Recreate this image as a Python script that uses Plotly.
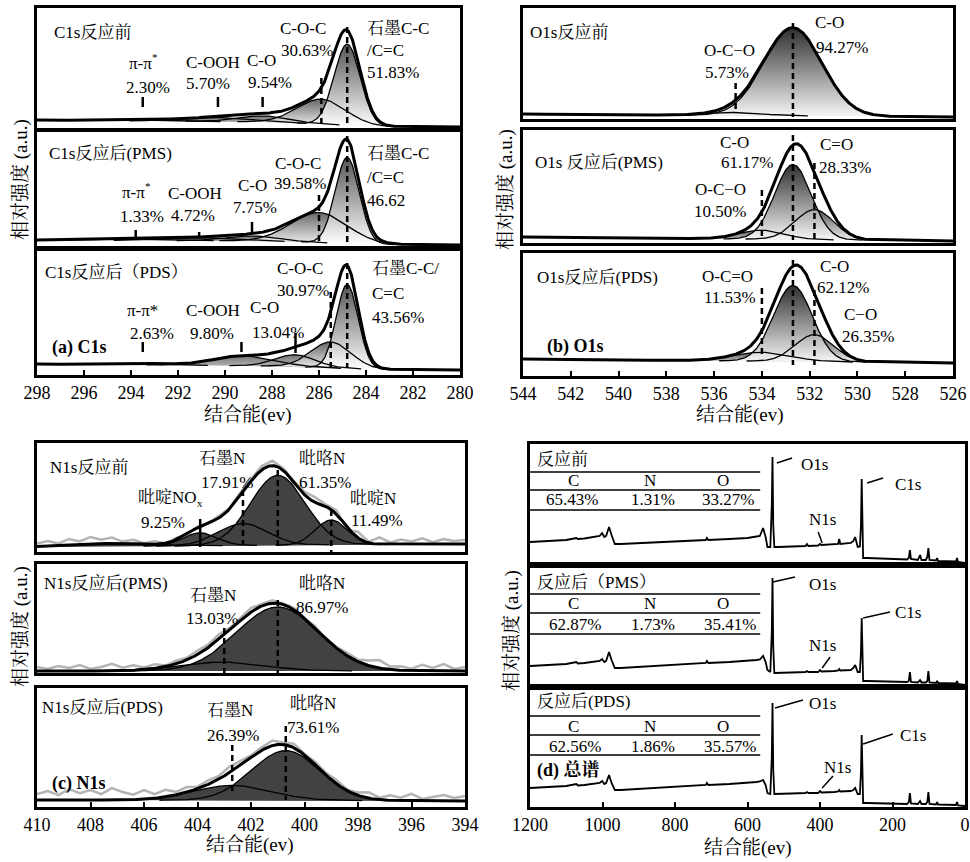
import numpy as np
import plotly.graph_objects as go

# ===================== DATA =====================
# Intensities are arbitrary units (a.u.) measured upward from the bottom edge of each sub-panel.

# ---- (a) C1s : component centres (eV), amplitudes (a.u.), FWHM (eV); background points ----
a1_center = [284.8, 285.9, 288.4, 290.3, 293.5]
a1_amp    = [81, 25, 6, 4, 1.5]
a1_fwhm   = [1.3, 2.4, 2.5, 3.0, 3.0]
a1_bg_be  = [280, 283.5, 288, 298]
a1_bg     = [1, 1.5, 6, 8]

a2_center = [284.8, 286.0, 288.85, 291.1, 293.8]
a2_amp    = [86, 30, 5, 3, 1.5]
a2_fwhm   = [1.2, 2.8, 2.5, 3.0, 3.0]
a2_bg_be  = [280, 283.5, 288, 298]
a2_bg     = [1, 1.5, 5, 6]

a3_center = [284.8, 285.5, 287.0, 289.2, 293.5]
a3_amp    = [84, 26, 12, 10, 1.5]
a3_fwhm   = [1.1, 2.0, 2.0, 3.0, 2.5]
a3_bg_be  = [280, 283.5, 288, 298]
a3_bg     = [5, 5.5, 9, 11]

# ---- (b) O1s ----
b1_center = [532.7, 535.1]
b1_amp    = [88, 3]
b1_fwhm   = [2.85, 2.5]
b1_bg_be  = [526, 544]
b1_bg     = [2, 5]

b2_center = [532.7, 531.8, 534.0]
b2_amp    = [75, 30, 9]
b2_fwhm   = [1.8, 1.9, 2.2]
b2_bg_be  = [526, 544]
b2_bg     = [2, 6]

b3_center = [532.7, 531.8, 534.0]
b3_amp    = [76, 27, 9]
b3_fwhm   = [1.9, 1.9, 2.8]
b3_bg_be  = [526, 544]
b3_bg     = [13, 17]

# ---- (c) N1s ----
c1_center = [401.0, 402.3, 403.9, 399.0, 407.3]
c1_amp    = [70, 22, 13, 25, 3]
c1_fwhm   = [2.4, 2.2, 1.5, 1.4, 3.5]
c1_bg_be  = [394, 410]
c1_bg     = [8, 5]

c2_center = [401.0, 403.0]
c2_amp    = [64, 9]
c2_fwhm   = [3.6, 3.5]
c2_bg_be  = [394, 410]
c2_bg     = [2, 2]

c3_center = [400.7, 402.7]
c3_amp    = [50, 15]
c3_fwhm   = [3.0, 3.4]
c3_bg_be  = [394, 410]
c3_bg     = [6, 7]

# raw-data scatter (grey) about the fitted envelope, every 0.4 eV from 410 to 394 eV
n_raw_be = [410 - 0.4 * i for i in range(41)]
c1_noise = [3, 5, 2, 6, 3, 7, 4, 6, 2, 4, 1, 3, 0, 2, -1, 1, 0, 2, 1, 3, 2, 4, 5, 2, 1, 3,
            5, 2, 4, -3, 6, 1, 7, 2, 5, 3, 6, 2, 5, 3, 4]
c2_noise = [4, 2, 5, 3, 6, 2, 4, 7, 3, 5, 2, 4, 1, 3, 2, 4, 3, 5, 2, 3, 4, 2, 3, 1, 2, 0,
            2, -1, 1, 3, 2, 5, 8, 3, 4, 2, 6, 3, 7, 2, 4]
c3_noise = [6, 9, 5, 11, 7, 10, 6, 12, 8, 5, 9, 4, 7, 3, 5, 2, 4, 3, 6, 4, 2, 3, 5, 2, 4, 1,
            3, 2, 4, 1, 3, 6, 2, 5, 3, 7, 2, 4, 6, 3, 5]

# ---- (d) survey spectra: binding energy (eV) and intensity (a.u.) ----
survey_be = [1200, 1150, 1100, 1072, 1068, 1050, 1020, 1008, 1001, 995, 990, 982, 975, 966,
             950, 900, 800, 715, 712, 708, 650, 600, 575, 566, 557, 550, 545, 537, 533, 531,
             529, 526, 515, 480, 440, 436, 432, 405, 400, 396, 360, 350, 347, 344, 315, 308,
             303, 299, 296, 290, 287, 285, 283, 281, 270, 230, 200, 160, 155, 152, 149, 130,
             124, 120, 108, 104, 101, 98, 80, 77, 74, 40, 25, 22, 19, 0]
d1_int = [23, 24, 25, 27, 26, 26.5, 28, 29, 32, 28, 29, 38, 30, 21,
          21, 22, 23.5, 25, 27, 25, 26, 27, 28.5, 29, 37, 28, 18, 18, 60, 108,
          40, 18, 18, 18.5, 19, 21, 19, 19.5, 21, 20, 20.5, 21, 26, 21, 22, 24,
          28, 22, 18, 18.5, 40, 86, 30, 7, 7, 6.5, 6, 5.5, 7, 15, 6, 5,
          10, 5, 5, 8, 17, 5, 4.5, 7, 4, 3.5, 3.5, 7, 3, 2]
d2_int = [21, 22, 23, 25, 23.5, 24, 25, 26, 28, 25, 26, 35, 27, 19,
          19, 20, 22, 24, 26, 24, 25, 26, 27, 27.5, 31, 25, 17, 15, 55, 109,
          40, 14, 14, 14.5, 15, 16, 15, 15, 17, 15.5, 16, 16.5, 18, 16.5, 17, 19,
          22, 18, 15, 15, 35, 69, 25, 6, 6, 5.5, 5, 5, 6, 15, 5, 4.5,
          7, 4.5, 4.5, 6, 16, 4.5, 4, 6, 4, 3.5, 3.5, 6, 3, 2]
d3_int = [19, 20, 21, 23, 21.5, 22, 23, 24, 26, 23, 24, 32, 24, 17,
          17, 18, 20, 22, 24, 22, 23, 24, 25, 25.5, 27, 22, 14, 13, 50, 104,
          38, 13, 13, 13.5, 14, 15, 14, 14, 16, 14.5, 15, 15.5, 17, 15.5, 16, 17,
          19, 16, 13, 13, 35, 72, 25, 4, 4, 3.5, 3.5, 3, 5, 14, 3.5, 3,
          6, 3, 3, 5, 15, 3, 2.5, 5, 2.5, 2, 2, 5, 1.5, 1]

# element tables (panel d)
elements = ["C", "N", "O"]
d1_atomic = ["65.43%", "1.31%", "33.27%"]
d2_atomic = ["62.87%", "1.73%", "35.41%"]
d3_atomic = ["62.56%", "1.86%", "35.57%"]

# tick labels
ticks_a = [298, 296, 294, 292, 290, 288, 286, 284, 282, 280]
ticks_b = [544, 542, 540, 538, 536, 534, 532, 530, 528, 526]
ticks_c = [410, 408, 406, 404, 402, 400, 398, 396, 394]
ticks_d = [1200, 1000, 800, 600, 400, 200, 0]

# ===================== LAYOUT / STYLE =====================
W, H = 970, 862
FONT = "Liberation Serif, 'Noto Serif CJK SC', 'Noto Sans CJK SC', serif"
FS = 17
keys = ['a1', 'a2', 'a3', 'b1', 'b2', 'b3', 'c1', 'c2', 'c3', 'd1', 'd2', 'd3']
BOX = {  # left, right, top, bottom (px)
    'a1': (37, 460, 8, 128), 'a2': (37, 460, 132, 246), 'a3': (37, 460, 251, 375),
    'b1': (523, 953, 8, 119), 'b2': (523, 953, 130, 243), 'b3': (523, 953, 253, 376),
    'c1': (37, 465, 443, 552), 'c2': (37, 465, 564, 673), 'c3': (37, 465, 688, 807),
    'd1': (530, 965, 444, 565), 'd2': (530, 965, 565, 687), 'd3': (530, 965, 687, 807),
}
XR = {'a': [298, 280], 'b': [544, 526], 'c': [410, 394], 'd': [1200, 0]}
TICKS = {'a': ticks_a, 'b': ticks_b, 'c': ticks_c, 'd': ticks_d}

def ax_id(n, axis):
    return axis if n == 1 else f"{axis}{n}"

layout = dict(width=W, height=H, margin=dict(l=0, r=0, t=0, b=0, pad=0, autoexpand=False),
              autosize=False, paper_bgcolor='white', plot_bgcolor='white', showlegend=False,
              font=dict(family=FONT, size=FS, color='black'))
for i, k in enumerate(keys):
    n = i + 1
    l, r, t, b = BOX[k]
    xa = dict(domain=[l / W, r / W], range=XR[k[0]], anchor=ax_id(n, 'y'),
              showline=True, mirror=True, linewidth=2.5, linecolor='black',
              showgrid=False, zeroline=False, fixedrange=True, automargin=False)
    if k.endswith('3'):
        xa.update(ticks='inside', ticklen=5, tickwidth=1.5, tickcolor='black',
                  tickvals=TICKS[k[0]], ticktext=[str(v) for v in TICKS[k[0]]],
                  tickfont=dict(size=18, family=FONT, color='black'))
    else:
        xa.update(ticks='', showticklabels=False)
    ya = dict(domain=[1 - b / H, 1 - t / H], range=[0, b - t], anchor=ax_id(n, 'x'),
              showline=True, mirror=True, linewidth=2.5, linecolor='black', automargin=False,
              showgrid=False, zeroline=False, showticklabels=False, ticks='', fixedrange=True)
    layout[ax_id(n, 'xaxis')] = xa
    layout[ax_id(n, 'yaxis')] = ya

FITS = {
    'a1': (a1_center, a1_amp, a1_fwhm, a1_bg_be, a1_bg),
    'a2': (a2_center, a2_amp, a2_fwhm, a2_bg_be, a2_bg),
    'a3': (a3_center, a3_amp, a3_fwhm, a3_bg_be, a3_bg),
    'b1': (b1_center, b1_amp, b1_fwhm, b1_bg_be, b1_bg),
    'b2': (b2_center, b2_amp, b2_fwhm, b2_bg_be, b2_bg),
    'b3': (b3_center, b3_amp, b3_fwhm, b3_bg_be, b3_bg),
    'c1': (c1_center, c1_amp, c1_fwhm, c1_bg_be, c1_bg),
    'c2': (c2_center, c2_amp, c2_fwhm, c2_bg_be, c2_bg),
    'c3': (c3_center, c3_amp, c3_fwhm, c3_bg_be, c3_bg),
}
NOISE = {'c1': c1_noise, 'c2': c2_noise, 'c3': c3_noise}

GRAD_C = [[[0, '#ffffff'], [1, '#555555']], [[0, '#f2f2f2'], [1, '#686868']],
          [[0, '#bdbdbd'], [1, '#777777']], [[0, '#bdbdbd'], [1, '#777777']],
          [[0, '#bdbdbd'], [1, '#777777']]]
GRAD_O = [[[0, '#f7f7f7'], [1, '#2e2e2e']], [[0, '#f0f0f0'], [1, '#555555']],
          [[0, '#c8c8c8'], [1, '#555555']]]

# peak markers: (x, top, bottom, dashed)
MARKS = {
    'a1': [(293.5, 31, 21, 0), (290.3, 31, 21, 0), (288.4, 31, 21, 0), (285.9, 50, 3, 1), (284.8, 101, 2, 1)],
    'a2': [(293.8, 16, 9, 0), (291.1, 14, 8, 0), (288.85, 24, 13, 0), (286.0, 51, 4, 1), (284.8, 110, 3, 1)],
    'a3': [(293.5, 33, 23, 0), (289.3, 33, 23, 0), (287.0, 42, 22, 0), (285.5, 83, 8, 1), (284.8, 112, 7, 1)],
    'b1': [(535.1, 36, 7, 1), (532.7, 96, 2, 1)],
    'b2': [(534.0, 53, 6, 1), (532.7, 108, 3, 1), (531.8, 80, 3, 1)],
    'b3': [(534.0, 88, 19, 1), (532.7, 116, 11, 1), (531.8, 86, 11, 1)],
    'c1': [(403.9, 33, 5, 0), (402.3, 62, 7, 1), (401.0, 82, 7, 1), (399.0, 42, 0, 1)],
    'c2': [(403.0, 45, 0, 1), (401.0, 73, 0, 1)],
    'c3': [(402.7, 62, 14, 1), (400.7, 81, 7, 1)],
}

# label texts: (text, x, y, x-anchor, font size, bold, x-shift px)
LABELS = {
    'a1': [("C1s反应前", 297.36, 96, 'left'), ("π-π", 293.02, 65, 'right'),
           ("*", 293.02, 71, 'left', 11, False, -4),
           ("2.30%", 293.28, 41, 'center'), ("C-OOH", 290.51, 66, 'center'),
           ("5.70%", 290.72, 45, 'center'), ("C-O", 288.43, 68, 'center'),
           ("9.54%", 288.09, 46, 'center'), ("C-O-C", 286.68, 100, 'center'),
           ("30.63%", 286.51, 78, 'center'), ("石墨C-C", 284.04, 100, 'left'),
           ("/C=C", 284.04, 78, 'left'), ("51.83%", 284.04, 56, 'left')],
    'a2': [("C1s反应后(PMS)", 297.57, 93, 'left'), ("C-O-C", 286.89, 83, 'center'),
           ("39.58%", 286.81, 63, 'center'), ("石墨C-C", 284.04, 93, 'left'),
           ("/C=C", 284.04, 69, 'left'), ("46.62", 284.04, 46, 'left'),
           ("π-π", 293.32, 54, 'right'), ("*", 293.32, 60, 'left', 11, False, -4),
           ("1.33%", 293.53, 30, 'center'),
           ("C-OOH", 291.28, 53, 'center'), ("4.72%", 291.36, 31, 'center'),
           ("C-O", 288.81, 61, 'center'), ("7.75%", 288.72, 39, 'center')],
    'a3': [("C1s反应后（PDS）", 297.74, 103, 'left'), ("C-O-C", 286.81, 107, 'center'),
           ("30.97%", 286.68, 85, 'center'), ("石墨C-C/", 283.83, 107, 'left'),
           ("C=C", 283.83, 82, 'left'), ("43.56%", 283.83, 58, 'left'),
           ("π-π*", 293.49, 65, 'center'), ("2.63%", 293.11, 42, 'center'),
           ("C-OOH", 290.51, 65, 'center'), ("9.80%", 290.55, 42, 'center'),
           ("C-O", 288.30, 68, 'center'), ("13.04%", 287.75, 43, 'center'),
           ("(a) C1s", 297.45, 28, 'left', 18, True)],
    'b1': [("O1s反应前", 543.79, 87, 'left'), ("O-C−O", 535.34, 69, 'center'),
           ("5.73%", 535.46, 47, 'center'), ("C-O", 531.15, 97, 'center'),
           ("94.27%", 530.65, 72, 'center')],
    'b2': [("O1s 反应后(PMS)", 543.58, 80, 'left'), ("C-O", 535.13, 100, 'center'),
           ("61.17%", 534.62, 80, 'center'), ("C=O", 530.86, 98, 'center'),
           ("28.33%", 530.52, 75, 'center'), ("O-C−O", 535.75, 53, 'center'),
           ("10.50%", 535.75, 31, 'center')],
    'b3': [("O1s反应后(PDS)", 543.50, 98, 'left'), ("O-C=O", 535.42, 99, 'center'),
           ("11.53%", 535.34, 78, 'center'), ("C-O", 530.94, 109, 'center'),
           ("62.12%", 530.60, 88, 'center'), ("C−O", 529.89, 61, 'center'),
           ("26.35%", 529.56, 39, 'center'), ("(b) O1s", 543.08, 29, 'left', 18, True)],
    'c1': [("N1s反应前", 409.59, 85, 'left'), ("石墨N", 403.08, 94, 'center'),
           ("17.91%", 402.90, 70, 'center'), ("吡啶NO", 403.94, 55, 'right'),
           ("x", 403.94, 49, 'left', 11, False, -4),
           ("9.25%", 405.29, 30, 'center'), ("吡咯N", 399.35, 94, 'center'),
           ("61.35%", 399.23, 70, 'center'), ("吡啶N", 397.44, 54, 'center'),
           ("11.49%", 397.29, 32, 'center')],
    'c2': [("N1s反应后(PMS)", 409.81, 90, 'left'), ("石墨N", 403.42, 78, 'center'),
           ("13.03%", 403.46, 55, 'center'), ("吡咯N", 399.35, 90, 'center'),
           ("86.97%", 399.35, 66, 'center')],
    'c3': [("N1s反应后(PDS)", 409.89, 100, 'left'), ("石墨N", 402.79, 97, 'center'),
           ("26.39%", 402.67, 72, 'center'), ("吡咯N", 399.68, 104, 'center'),
           ("73.61%", 399.68, 80, 'center'), ("(c) N1s", 409.51, 24, 'left', 18, True)],
    'd1': [("反应前", 1186, 105, 'left'), ("O1s", 414, 100, 'center'),
           ("C1s", 157, 80, 'center'), ("N1s", 394, 46, 'center')],
    'd2': [("反应后（PMS）", 1186, 105, 'left'), ("O1s", 392, 103, 'center'),
           ("C1s", 157, 75, 'center'), ("N1s", 392, 42, 'center')],
    'd3': [("反应后(PDS)", 1186, 106, 'left'), ("O1s", 392, 104, 'center'),
           ("C1s", 143, 72, 'center'), ("N1s", 353, 40, 'center'),
           ("(d) 总谱", 1186, 37, 'left', 18, True)],
}
# survey tables: (line ys, header y, number y, header xs, number xs)
TABLES = {
    'd1': ([93, 75, 55], 84, 65, [1081, 869, 668], [1084, 861, 654], d1_atomic),
    'd2': ([93, 74, 53], 84, 63, [1081, 869, 668], [1076, 861, 648], d2_atomic),
    'd3': ([91, 72, 52], 81, 61, [1081, 869, 668], [1076, 861, 648], d3_atomic),
}
# leader lines (x0, y0, x1, y1)
LEADERS = {
    'd1': [(519, 102, 477, 107), (270, 82, 226, 87), (405, 33, 394, 22)],
    'd2': [(530, 105, 469, 110), (281, 69, 207, 75), (372, 30, 394, 19)],
    'd3': [(524, 99, 447, 107), (281, 63, 199, 73), (364, 31, 394, 19)],
}
SURVEY = {'d1': d1_int, 'd2': d2_int, 'd3': d3_int}

# ===================== BUILD =====================
fig = go.Figure()
annotations, shapes = [], []

def gauss(x, c, a, w):
    return a * np.exp(-4 * np.log(2) * (x - c) ** 2 / w ** 2)

def text_ann(xr, yr, x, y, txt, anchor='center', size=FS, bold=False, xshift=0):
    return dict(xref=xr, yref=yr, x=x, y=y, text=txt, showarrow=False,
                xanchor=anchor, yanchor='middle', xshift=xshift,
                font=dict(size=size, family=FONT, color='black',
                          weight='bold' if bold else 'normal'))

for i, k in enumerate(keys):
    n = i + 1
    xr, yr = ax_id(n, 'x'), ax_id(n, 'y')
    if k in FITS:
        cen, amp, fw, bgx, bgy = FITS[k]
        lo, hi = min(XR[k[0]]), max(XR[k[0]])
        xg = np.linspace(lo, hi, 801)
        bg = np.interp(xg, bgx, bgy)
        comps = [gauss(xg, c, a, w) for c, a, w in zip(cen, amp, fw)]
        env = bg + np.sum(comps, axis=0)
        if k in NOISE:
            rx = np.array(n_raw_be)
            renv = np.interp(rx, bgx, bgy) + np.sum([gauss(rx, c, a, w) for c, a, w in zip(cen, amp, fw)], axis=0)
            fig.add_trace(go.Scatter(x=rx, y=renv + np.array(NOISE[k]), mode='lines',
                                     line=dict(color='#b4b4b4', width=2.5), xaxis=xr, yaxis=yr,
                                     hoverinfo='skip'))
        order = list(range(len(comps)))[::-1]
        for j in order:
            g = comps[j]
            m = g > 0.05
            xs = np.concatenate([xg[m], xg[m][::-1]])
            ys = np.concatenate([bg[m] + g[m], bg[m][::-1]])
            kw = dict(x=xs, y=ys, fill='toself', mode='lines', line=dict(width=0, color='black'),
                      xaxis=xr, yaxis=yr, hoverinfo='skip')
            if k[0] == 'a':
                kw['fillgradient'] = dict(type='vertical', colorscale=GRAD_C[j])
            elif k[0] == 'b':
                kw['fillgradient'] = dict(type='vertical', colorscale=GRAD_O[j])
            else:
                kw['fillcolor'] = '#424242'
            fig.add_trace(go.Scatter(**kw))
        for j in order:
            g = comps[j]
            m = g > 0.05
            fig.add_trace(go.Scatter(x=xg[m], y=bg[m] + g[m], mode='lines',
                                     line=dict(color='black', width=1.3), xaxis=xr, yaxis=yr,
                                     hoverinfo='skip'))
        fig.add_trace(go.Scatter(x=xg, y=env, mode='lines', line=dict(color='black', width=3),
                                 xaxis=xr, yaxis=yr, hoverinfo='skip'))
        for (mx, top, bot, dashed) in MARKS[k]:
            fig.add_trace(go.Scatter(x=[mx, mx], y=[top, bot], mode='lines',
                                     line=dict(color='black', width=2.5,
                                               dash='6px,4px' if dashed else 'solid'),
                                     xaxis=xr, yaxis=yr, hoverinfo='skip'))
    else:
        fig.add_trace(go.Scatter(x=survey_be, y=SURVEY[k], mode='lines',
                                 line=dict(color='black', width=1.8), xaxis=xr, yaxis=yr,
                                 hoverinfo='skip'))
        lys, hy, ny, hxs, nxs, vals = TABLES[k]
        for ly in lys:
            shapes.append(dict(type='line', xref=xr, yref=yr, x0=1200, x1=565, y0=ly, y1=ly,
                               line=dict(color='black', width=1.5)))
        for el, hx in zip(elements, hxs):
            annotations.append(text_ann(xr, yr, hx, hy, el))
        for v, nx in zip(vals, nxs):
            annotations.append(text_ann(xr, yr, nx, ny, v))
        for (x0, y0, x1, y1) in LEADERS[k]:
            shapes.append(dict(type='line', xref=xr, yref=yr, x0=x0, y0=y0, x1=x1, y1=y1,
                               line=dict(color='black', width=1.5)))
    for lab in LABELS[k]:
        txt, x, y, anc = lab[:4]
        size = lab[4] if len(lab) > 4 else FS
        bold = lab[5] if len(lab) > 5 else False
        xs_ = lab[6] if len(lab) > 6 else 0
        annotations.append(text_ann(xr, yr, x, y, txt, anc, size, bold, xs_))

# axis titles (paper coordinates)
for (cx, cy) in [(21, 180), (506, 190), (21, 627), (512, 631)]:
    annotations.append(dict(xref='paper', yref='paper', x=cx / W, y=1 - cy / H,
                            text="相对强度 (a.u.)", textangle=-90, showarrow=False,
                            xanchor='center', yanchor='middle',
                            font=dict(size=19, family=FONT, color='black')))
for (cx, cy) in [(248, 415), (740, 415), (250, 845), (748, 848)]:
    annotations.append(dict(xref='paper', yref='paper', x=cx / W, y=1 - cy / H,
                            text="结合能(ev)", showarrow=False, xanchor='center', yanchor='middle',
                            font=dict(size=19, family=FONT, color='black')))

layout['annotations'] = annotations
layout['shapes'] = shapes
fig.update_layout(**layout)
fig.write_html("out.html")
